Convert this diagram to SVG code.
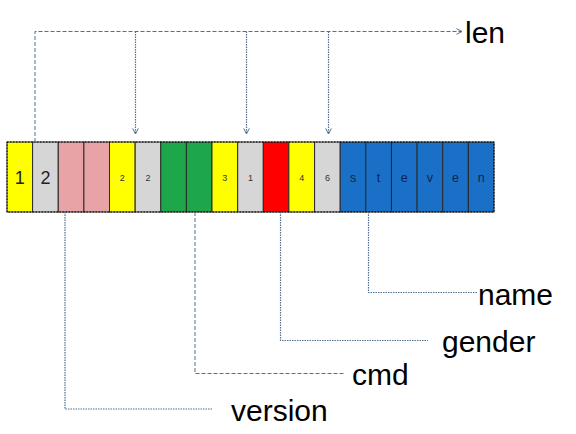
<svg xmlns="http://www.w3.org/2000/svg" width="576" height="434" viewBox="0 0 576 434">
<style>
.cell{stroke:#2a2a2a;stroke-width:1}
.y{fill:#ffff00}.g{fill:#d6d6d6}.p{fill:#e8a3a6}.gr{fill:#1ea64a}.r{fill:#ff0000}.b{fill:#1a6fc6}
.big{font-family:"Liberation Sans",Arial,sans-serif;font-size:18px;fill:#222;text-anchor:middle}
.sm{font-family:"Liberation Sans",Arial,sans-serif;font-size:9px;fill:#333;text-anchor:middle}
.bl{font-family:"Liberation Sans",Arial,sans-serif;font-size:12.5px;fill:#0c2550;text-anchor:middle}
.lbl{font-family:"Liberation Sans",Arial,sans-serif;font-size:30px;fill:#000}
.dash{fill:none;stroke:#50708f;stroke-width:1;stroke-dasharray:4 2}
.dot{fill:none;stroke:#50708f;stroke-width:1.2;stroke-dasharray:1.5 1}
</style>
<defs>
<marker id="arr" viewBox="0 0 10 10" refX="9" refY="5" markerWidth="7" markerHeight="7" orient="auto" markerUnits="userSpaceOnUse">
<path d="M1,1 L9,5 L1,9" fill="none" stroke="#50708f" stroke-width="1.4"/>
</marker>
</defs>
<g id="strip">
<rect class="cell y" x="7" y="142" width="25.6" height="70"/>
<rect class="cell g" x="32.6" y="142" width="25.6" height="70"/>
<rect class="cell p" x="58.3" y="142" width="25.6" height="70"/>
<rect class="cell p" x="83.9" y="142" width="25.6" height="70"/>
<rect class="cell y" x="109.5" y="142" width="25.6" height="70"/>
<rect class="cell g" x="135.2" y="142" width="25.6" height="70"/>
<rect class="cell gr" x="160.8" y="142" width="25.6" height="70"/>
<rect class="cell gr" x="186.4" y="142" width="25.6" height="70"/>
<rect class="cell y" x="212" y="142" width="25.6" height="70"/>
<rect class="cell g" x="237.7" y="142" width="25.6" height="70"/>
<rect class="cell r" x="263.3" y="142" width="25.6" height="70"/>
<rect class="cell y" x="288.9" y="142" width="25.6" height="70"/>
<rect class="cell g" x="314.6" y="142" width="25.6" height="70"/>
<rect class="cell b" x="340.2" y="142" width="25.6" height="70"/>
<rect class="cell b" x="365.8" y="142" width="25.6" height="70"/>
<rect class="cell b" x="391.5" y="142" width="25.6" height="70"/>
<rect class="cell b" x="417.1" y="142" width="25.6" height="70"/>
<rect class="cell b" x="442.7" y="142" width="25.6" height="70"/>
<rect class="cell b" x="468.4" y="142" width="25.6" height="70"/>
<rect x="7" y="142" width="487" height="70" fill="none" stroke="#000" stroke-width="1" stroke-dasharray="1.5 1.5"/>
<text class="big" x="19.8" y="184">1</text>
<text class="big" x="45.4" y="184">2</text>
<text class="sm" x="122.3" y="181">2</text>
<text class="sm" x="148" y="181">2</text>
<text class="sm" x="224.8" y="181">3</text>
<text class="sm" x="250.5" y="181">1</text>
<text class="sm" x="301.7" y="181">4</text>
<text class="sm" x="327.4" y="181">6</text>
<text class="bl" x="353" y="181.5">s</text>
<text class="bl" x="378.6" y="181.5">t</text>
<text class="bl" x="404.3" y="181.5">e</text>
<text class="bl" x="429.9" y="181.5">v</text>
<text class="bl" x="455.5" y="181.5">e</text>
<text class="bl" x="481.2" y="181.5">n</text>
</g>
<g id="connectors">
<path class="dash" d="M35,142 V31.5 H462" marker-end="url(#arr)"/>
<path class="dot" d="M135.5,31.5 V134" marker-end="url(#arr)"/>
<path class="dot" d="M246.5,31.5 V134" marker-end="url(#arr)"/>
<path class="dot" d="M328.5,31.5 V134" marker-end="url(#arr)"/>
<path class="dot" d="M368.5,212 V292.5 H477"/>
<path class="dot" d="M280.5,212 V340.5 H428"/>
<path class="dash" d="M195,212 V373.5 H345"/>
<path class="dot" d="M65,212 V409 H213"/>
</g>
<g id="len"><text class="lbl" x="465" y="43">len</text></g>
<g id="name"><text class="lbl" x="478" y="305">name</text></g>
<g id="gender"><text class="lbl" x="442" y="352">gender</text></g>
<g id="cmd"><text class="lbl" x="352" y="385">cmd</text></g>
<g id="version"><text class="lbl" x="231" y="421">version</text></g>
</svg>
